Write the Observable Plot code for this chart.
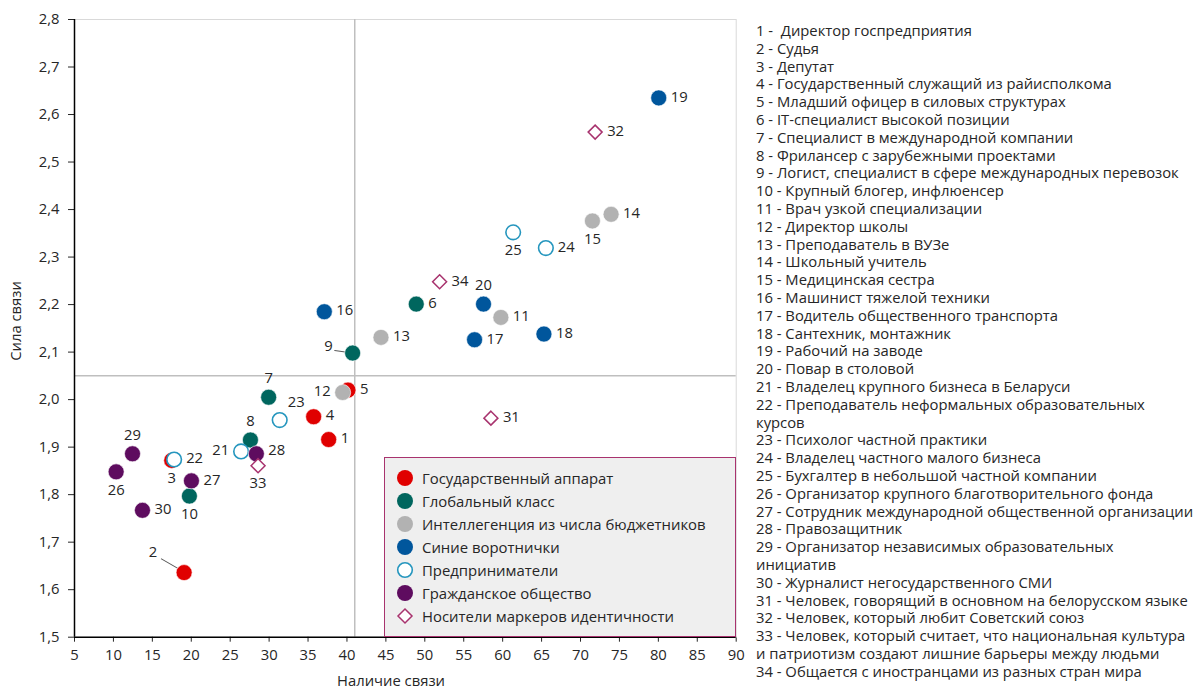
<!DOCTYPE html>
<html><head><meta charset="utf-8">
<script src="https://cdn.jsdelivr.net/npm/d3@7"></script>
<script src="https://cdn.jsdelivr.net/npm/@observablehq/plot@0.6"></script>
<style>
body{margin:0;background:#fff;font-family:"Open Sans",sans-serif;color:#262626;}
#wrap{position:relative;width:1201px;height:690px;overflow:hidden;background:#fff;}
#chart{position:absolute;left:0;top:0;}
#legend{position:absolute;left:384px;top:457px;width:352px;height:180px;box-sizing:border-box;background:#efefef;border:1.5px solid #a8336e;}
.li{position:absolute;left:0;height:20px;font-size:14.9px;line-height:20px;white-space:nowrap;}
.li svg{position:absolute;left:11px;top:1px;}
.li span{position:absolute;left:37px;top:0;}
#roles{position:absolute;left:756px;top:22px;font-size:14.8px;line-height:17.8px;white-space:pre;}
.ytitle{position:absolute;left:15px;top:321px;transform:translate(-50%,-50%) rotate(-90deg);font-size:14.8px;white-space:nowrap;}
.xtitle{position:absolute;left:391px;top:680px;transform:translate(-50%,-50%);font-size:14.8px;white-space:nowrap;}
</style></head><body>
<div id="wrap"><div id="chart"></div><div id="legend"></div><div id="roles"></div>
<div class="ytitle">Сила связи</div><div class="xtitle">Наличие связи</div></div>
<script>
// ---- data ----
const groupNames = ["Государственный аппарат","Глобальный класс","Интеллегенция из числа бюджетников","Синие воротнички","Предприниматели","Гражданское общество","Носители маркеров идентичности"];
const groupColors = ["#e00000","#00665e","#b2b2b2","#00569c","#2596be","#5e0c5f","#a8336e"];
const groupMarker = ["filled","filled","filled","filled","open","filled","diamond"];
const pointIds   = [1,2,3,4,5,6,7,8,9,10,11,12,13,14,15,16,17,18,19,20,21,22,23,24,25,26,27,28,29,30,31,32,33,34];
const pointGroup = [0,0,0,0,0,1,1,1,1,1,2,2,2,2,2,3,3,3,3,3,4,4,4,4,4,5,5,5,5,5,6,6,6,6];
const xPresence  = [37.65,19.08,17.49,35.72,40.13,48.9,29.94,27.6,40.73,19.76,59.77,39.45,44.37,73.93,71.53,37.09,56.39,65.3,80.05,57.54,26.4,17.8,31.36,65.55,61.35,10.35,20.02,28.36,12.45,13.73,58.49,71.88,28.58,51.9];
const yStrength  = [1.916,1.636,1.872,1.964,2.02,2.201,2.005,1.915,2.098,1.797,2.173,2.015,2.131,2.39,2.376,2.185,2.126,2.138,2.635,2.201,1.891,1.874,1.957,2.319,2.352,1.848,1.829,1.886,1.886,1.767,1.961,2.563,1.861,2.248];
const roleNames = [
 " Директор госпредприятия","Судья","Депутат","Государственный служащий из райисполкома","Младший офицер в силовых структурах",
 "IT-специалист высокой позиции","Специалист в международной компании","Фрилансер с зарубежными проектами","Логист, специалист в сфере международных перевозок","Крупный блогер, инфлюенсер",
 "Врач узкой специализации","Директор школы","Преподаватель в ВУЗе","Школьный учитель","Медицинская сестра",
 "Машинист тяжелой техники","Водитель общественного транспорта","Сантехник, монтажник","Рабочий на заводе","Повар в столовой",
 "Владелец крупного бизнеса в Беларуси","Преподаватель неформальных образовательных курсов","Психолог частной практики","Владелец частного малого бизнеса","Бухгалтер в небольшой частной компании",
 "Организатор крупного благотворительного фонда","Сотрудник международной общественной организации","Правозащитник","Организатор независимых образовательных инициатив","Журналист негосударственного СМИ",
 "Человек, говорящий в основном на белорусском языке","Человек, который любит Советский союз","Человек, который считает, что национальная культура и патриотизм создают лишние барьеры между людьми","Общается с иностранцами из разных стран мира"];
const roleBreakBefore = {22:"курсов", 29:"инициатив", 33:"и патриотизм"};
const xTickValues = [5,10,15,20,25,30,35,40,45,50,55,60,65,70,75,80,85,90];
const yTickValues = [1.5,1.6,1.7,1.8,1.9,2.0,2.1,2.2,2.3,2.4,2.5,2.6,2.7,2.8];
const xThreshold = 41, yThreshold = 2.05;
const labelPlacement = {2:"leaderUpLeft",3:"below",7:"above",8:"above",9:"leaderLeft",10:"below",12:"left",15:"below",20:"above",21:"left",23:"aboveRight",25:"below",26:"below",28:"rightUp",29:"above",33:"below"};

// ---- build ----
const data = pointIds.map((id,i)=>({id, x:xPresence[i], y:yStrength[i], g:pointGroup[i], group:groupNames[pointGroup[i]], marker:groupMarker[pointGroup[i]], place:labelPlacement[id]||"right"}));
const placeStyle = {
  right:{dx:12,dy:-1,textAnchor:"start"},
  rightUp:{dx:12,dy:-4,textAnchor:"start"},
  left:{dx:-12,dy:-1,textAnchor:"end"},
  above:{dx:0,dy:-19,textAnchor:"middle"},
  below:{dx:0,dy:18,textAnchor:"middle"},
  aboveRight:{dx:8,dy:-18,textAnchor:"start"},
  leaderUpLeft:{dx:-27,dy:-20,textAnchor:"end"},
  leaderLeft:{dx:-20,dy:-7,textAnchor:"end"}
};
const leaderStyle = {leaderUpLeft:{length:20,rotate:-60,dx:-5.4,dy:-3.7}, leaderLeft:{length:12.5,rotate:-81,dx:-5.6,dy:-0.7}};
const fmtY = d => d.toFixed(1).replace(".", ",");

const marks = [
  Plot.frame({stroke:"#d9d9d9"}),
  Plot.ruleX([xThreshold],{stroke:"#bfbfbf",strokeWidth:1.5}),
  Plot.ruleY([yThreshold],{stroke:"#bfbfbf",strokeWidth:1.5}),
  Plot.ruleX([xTickValues[0]],{stroke:"#000",strokeWidth:1.5}),
  Plot.ruleY([yTickValues[0]],{stroke:"#000",strokeWidth:1.5}),
];
Object.entries(leaderStyle).forEach(([k,s])=>{
  marks.push(Plot.vector(data.filter(d=>d.place===k),{x:"x",y:"y",length:s.length,rotate:s.rotate,anchor:"start",dx:s.dx,dy:s.dy,r:0.0001,stroke:"#595959",strokeWidth:1}));
});
// draw in group order
for (let g=0; g<groupNames.length; g++){
  const sub = data.filter(d=>d.g===g);
  const m = groupMarker[g];
  if (m==="filled") marks.push(Plot.dot(sub,{x:"x",y:"y",r:8,fill:"group",stroke:"#fff",strokeWidth:0.6}));
  else if (m==="open") marks.push(Plot.dot(sub,{x:"x",y:"y",r:7.3,fill:"#fff",stroke:"group",strokeWidth:1.6}));
  else marks.push(Plot.dot(sub,{x:"x",y:"y",r:6.3,symbol:"diamond2",fill:"#fff",stroke:"group",strokeWidth:1.5}));
}
Object.entries(placeStyle).forEach(([k,s])=>{
  marks.push(Plot.text(data.filter(d=>d.place===k),{x:"x",y:"y",text:d=>String(d.id),dx:s.dx,dy:s.dy,textAnchor:s.textAnchor,fontSize:14.8,fill:"#262626"}));
});

const chart = Plot.plot({
  width:745, height:690,
  marginLeft:74, marginRight:9.3, marginTop:19, marginBottom:53.3,
  style:{fontFamily:"'Open Sans', sans-serif", fontSize:"14.8px", color:"#262626", background:"transparent", overflow:"visible"},
  x:{domain:[xTickValues[0], xTickValues[xTickValues.length-1]], ticks:xTickValues, tickSize:5, tickPadding:7, label:null, tickFormat:d=>String(d)},
  y:{domain:[yTickValues[0], yTickValues[yTickValues.length-1]], ticks:yTickValues, tickSize:6, tickPadding:9, label:null, tickFormat:fmtY},
  color:{domain:groupNames, range:groupColors},
  marks
});
document.getElementById("chart").appendChild(chart);

// legend
const leg = document.getElementById("legend");
groupNames.forEach((name,i)=>{
  const m = groupMarker[i], c = groupColors[i];
  let sym;
  if (m==="filled") sym = `<circle cx="9" cy="9" r="8" fill="${c}"/>`;
  else if (m==="open") sym = `<circle cx="9" cy="9" r="7.3" fill="#fff" stroke="${c}" stroke-width="1.6"/>`;
  else sym = `<path d="M9,2L16,9L9,16L2,9Z" fill="#fff" stroke="${c}" stroke-width="1.5"/>`;
  const div = document.createElement("div");
  div.className = "li";
  div.style.top = (9.5 + 23*i) + "px";
  div.innerHTML = `<svg width="18" height="18">${sym}</svg><span></span>`;
  div.querySelector("span").textContent = name;
  leg.appendChild(div);
});

// role list
const lines = [];
pointIds.forEach((id,i)=>{
  const t = id + " - " + roleNames[i];
  const br = roleBreakBefore[id];
  if (br){ const p = t.indexOf(br); lines.push(t.slice(0,p).trimEnd()); lines.push(t.slice(p)); }
  else lines.push(t);
});
document.getElementById("roles").textContent = lines.join("\n");
</script></body></html>
